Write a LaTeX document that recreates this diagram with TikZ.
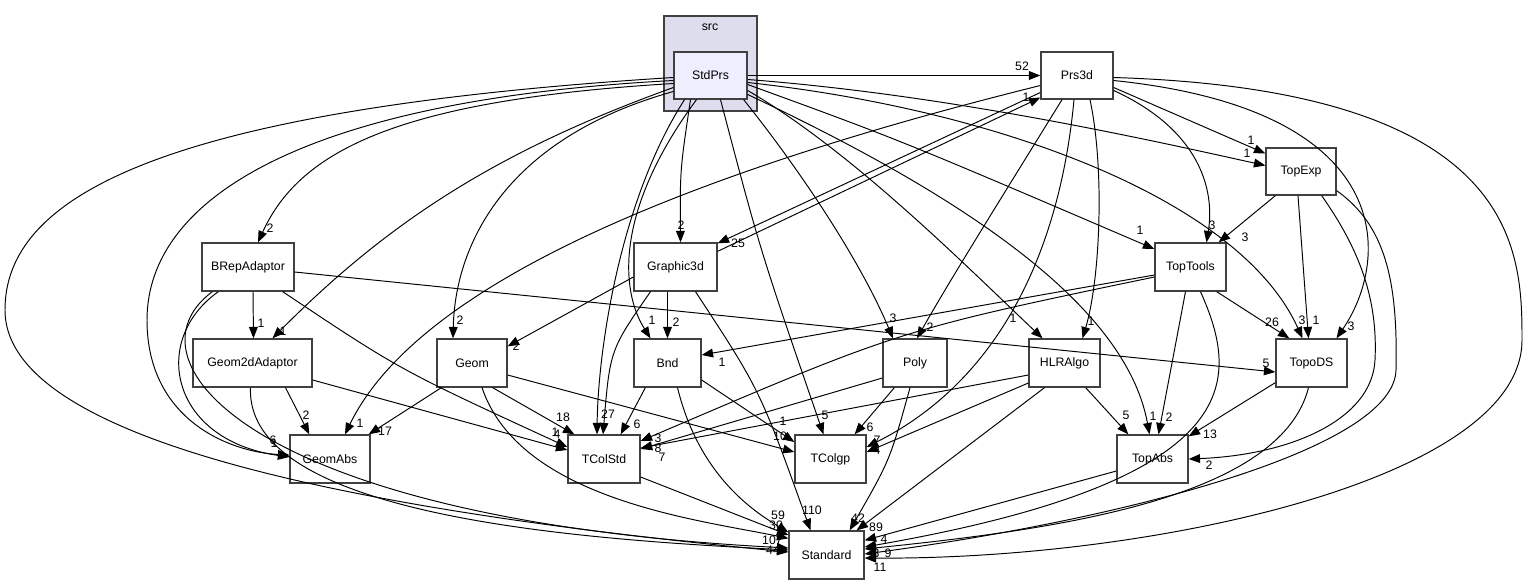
\documentclass[tikz,border=0pt]{standalone}
\usepackage{fontspec}
\setmainfont{Liberation Sans}
\usetikzlibrary{arrows.meta, calc}
\definecolor{frame}{HTML}{404040}
\definecolor{clusterbg}{HTML}{DDDDEE}
\definecolor{curdir}{HTML}{EEEEFF}

\begin{document}
\begin{tikzpicture}[x=0.02cm, y=-0.02cm, font=\fontsize{7}{8}\selectfont,
  dir/.style={draw=frame, line width=0.75pt, fill=white, minimum height=0.96cm, inner sep=0pt},
  arr/.style={-{Triangle[length=6.5pt,width=5pt]}, line width=0.55pt, black},
  lab/.style={inner sep=0pt}
]
  \useasboundingbox (0,0) rectangle (1525,585);

  % cluster
  \node[draw=frame, line width=0.75pt, fill=clusterbg, minimum width=1.86cm, minimum height=1.9cm, inner sep=0pt] (src) at (710.5,63.5) {};
  \node (srclab) at (710,27) {src};

  % directories
  \node[dir, fill=curdir, minimum width=1.46cm, minimum height=0.94cm] (StdPrs) at (710.5,75.5) {StdPrs};
  \node[dir, minimum width=1.44cm, minimum height=0.94cm] (Prs3d) at (1077,75.5) {Prs3d};
  \node[dir, minimum width=1.40cm, minimum height=0.94cm] (TopExp) at (1301,171.5) {TopExp};
  \node[dir, minimum width=1.84cm] (BRepAdaptor) at (248,267) {BRepAdaptor};
  \node[dir, minimum width=1.66cm] (Graphic3d) at (675.5,267) {Graphic3d};
  \node[dir, minimum width=1.42cm] (TopTools) at (1190.5,267) {TopTools};
  \node[dir, minimum width=2.38cm] (Geom2dAdaptor) at (252.5,363) {Geom2dAdaptor};
  \node[dir, minimum width=1.40cm] (Geom) at (472,363) {Geom};
  \node[dir, minimum width=1.34cm] (Bnd) at (667.5,363) {Bnd};
  \node[dir, minimum width=1.28cm] (Poly) at (915,363) {Poly};
  \node[dir, minimum width=1.42cm] (HLRAlgo) at (1064.5,363) {HLRAlgo};
  \node[dir, minimum width=1.42cm] (TopoDS) at (1311.5,363) {TopoDS};
  \node[dir, minimum width=1.60cm] (GeomAbs) at (330,459) {GeomAbs};
  \node[dir, minimum width=1.44cm] (TColStd) at (604,459) {TColStd};
  \node[dir, minimum width=1.42cm] (TColgp) at (830.5,459) {TColgp};
  \node[dir, minimum width=1.42cm] (TopAbs) at (1152.5,459) {TopAbs};
  \node[dir, minimum width=1.50cm] (Standard) at (826.5,555) {Standard};

  % StdPrs
  \draw[arr] (StdPrs.east) -- (Prs3d.west);
  \draw[arr] ($(StdPrs.east)+(0,4)$) .. controls (950,95) and (1150,140) .. ($(TopExp.west)+(0,-6)$);
  \draw[arr] ($(StdPrs.east)+(0,9)$) .. controls (900,140) .. ($(TopTools.west)+(0,-18)$);
  \draw[arr] ($(StdPrs.east)+(0,7)$) .. controls (1000,110) and (1240,200) .. ($(TopoDS.north)+(-9,0)$);
  \draw[arr] ($(StdPrs.east)+(0,15)$) .. controls (850,150) and (960,260) .. ($(HLRAlgo.north)+(-22,0)$);
  \draw[arr] ($(StdPrs.east)+(0,19)$) .. controls (950,190) and (1125,300) .. ($(TopAbs.north)+(-3,0)$);
  \draw[arr] ($(StdPrs.south east)+(-4,0)$) .. controls (800,170) and (860,260) .. ($(Poly.north)+(-22,0)$);
  \draw[arr] ($(StdPrs.south)+(10,0)$) .. controls (760,250) .. ($(TColgp.north)+(-7,0)$);
  \draw[arr] ($(StdPrs.south)+(-20,0)$) .. controls (680,170) .. ($(Graphic3d.north)+(5,0)$);
  \draw[arr] ($(StdPrs.south)+(-14,0)$) .. controls (615,210) and (620,290) .. ($(Bnd.north)+(-17,0)$);
  \draw[arr] ($(StdPrs.south)+(-26,0)$) .. controls (620,200) and (598,350) .. ($(TColStd.north)+(-7,0)$);
  \draw[arr] ($(StdPrs.west)+(0,16)$) .. controls (500,140) and (455,250) .. ($(Geom.north)+(-19,0)$);
  \draw[arr] ($(StdPrs.west)+(0,12)$) .. controls (500,150) and (390,220) .. ($(Geom2dAdaptor.north)+(20,0)$);
  \draw[arr] ($(StdPrs.west)+(0,8)$) .. controls (400,100) and (300,150) .. ($(BRepAdaptor.north)+(10,0)$);
  \draw[arr] ($(StdPrs.west)+(0,5)$) .. controls (300,100) and (147,200) .. (147,320) .. controls (147,420) and (230,452) .. ($(GeomAbs.west)+(0,-4)$);
  \draw[arr] ($(StdPrs.west)+(0,2)$) .. controls (150,110) and (5,200) .. (5,310) .. controls (5,440) and (350,510) .. ($(Standard.west)+(0,-3)$);

  % Prs3d
  \draw[arr] ($(Prs3d.east)+(0,12)$) -- ($(TopExp.west)+(0,-18)$);
  \draw[arr] ($(Prs3d.west)+(0,17)$) -- ($(Graphic3d.north east)+(0,1)$);
  \draw[arr] ($(Prs3d.west)+(0,10)$) .. controls (700,170) and (420,280) .. ($(GeomAbs.north)+(15,0)$);
  \draw[arr] ($(Prs3d.east)+(0,15)$) .. controls (1200,130) and (1215,190) .. ($(TopTools.north)+(16,0)$);
  \draw[arr] ($(Prs3d.east)+(0,5)$) .. controls (1400,110) and (1390,260) .. ($(TopoDS.north)+(25,0)$);
  \draw[arr] ($(Prs3d.south)+(-15,0)$) .. controls (1000,200) and (950,280) .. ($(Poly.north)+(2,0)$);
  \draw[arr] ($(Prs3d.south)+(13,0)$) .. controls (1105,170) and (1100,280) .. ($(HLRAlgo.north)+(18,0)$);
  \draw[arr] ($(Prs3d.south)+(-3,0)$) .. controls (1060,250) and (1000,380) .. ($(TColgp.east)+(0,-12)$);
  \draw[arr] ($(Prs3d.east)+(0,2)$) .. controls (1520,90) and (1522,250) .. (1522,340) .. controls (1522,480) and (1150,560) .. ($(Standard.east)+(0,3)$);

  % Graphic3d
  \draw[arr] ($(Graphic3d.north east)+(0,9)$) -- ($(Prs3d.west)+(0,22)$);
  \draw[arr] ($(Graphic3d.west)+(0,10)$) -- ($(Geom.north east)+(0,8)$);
  \draw[arr] ($(Graphic3d.south)+(-8,0)$) -- ($(Bnd.north)+(0,0)$);
  \draw[arr] ($(Graphic3d.south)+(-25,0)$) .. controls (610,350) .. ($(TColStd.north)+(-1,0)$);
  \draw[arr] ($(Graphic3d.south)+(20,0)$) .. controls (760,390) .. ($(Standard.north)+(-16,0)$);

  % TopExp
  \draw[arr] ($(TopExp.south west)+(10,0)$) -- ($(TopTools.north east)+(-8,0)$);
  \draw[arr] ($(TopExp.south)+(-3,0)$) -- ($(TopoDS.north)+(-3,0)$);
  \draw[arr] ($(TopExp.south east)+(-15,0)$) .. controls (1360,250) and (1378,300) .. (1375,360) .. controls (1372,420) and (1290,455) .. (TopAbs.east);
  \draw[arr] ($(TopExp.south east)+(0,-5)$) .. controls (1385,225) and (1398,280) .. (1396,370) .. controls (1394,450) and (1120,520) .. ($(Standard.east)+(0,-1)$);

  % TopTools
  \draw[arr] ($(TopTools.west)+(0,8)$) -- ($(Bnd.east)+(0,-8)$);
  \draw[arr] ($(TopTools.west)+(0,10)$) .. controls (900,330) .. ($(TColStd.east)+(0,-18)$);
  \draw[arr] ($(TopTools.south east)+(-10,0)$) -- ($(TopoDS.north west)+(14,0)$);
  \draw[arr] ($(TopTools.south)+(-5,0)$) -- ($(TopAbs.north)+(6,0)$);
  \draw[arr] ($(TopTools.south)+(10,0)$) .. controls (1240,380) and (1250,480) .. ($(Standard.east)+(0,-8)$);

  % BRepAdaptor
  \draw[arr] ($(BRepAdaptor.south)+(5,0)$) -- ($(Geom2dAdaptor.north)+(1,0)$);
  \draw[arr] ($(BRepAdaptor.south west)+(17,0)$) .. controls (150,340) and (170,440) .. ($(GeomAbs.west)+(0,-2)$);
  \draw[arr] ($(BRepAdaptor.south west)+(11,0)$) .. controls (120,360) and (250,520) .. ($(Standard.west)+(0,-7)$);
  \draw[arr] ($(BRepAdaptor.south east)+(-12,0)$) .. controls (400,370) .. ($(TColStd.west)+(0,-12)$);
  \draw[arr] ($(BRepAdaptor.east)+(0,5)$) -- ($(TopoDS.west)+(0,9)$);

  % Geom2dAdaptor
  \draw[arr] ($(Geom2dAdaptor.south)+(33,0)$) -- ($(GeomAbs.north west)+(20,0)$);
  \draw[arr] ($(Geom2dAdaptor.east)+(0,17)$) -- ($(TColStd.west)+(0,-9)$);
  \draw[arr] ($(Geom2dAdaptor.south)+(-2,0)$) .. controls (245,520) and (600,540) .. ($(Standard.west)+(0,-5)$);

  % Geom
  \draw[arr] ($(Geom.south west)+(5,0)$) -- ($(GeomAbs.north east)+(-2,0)$);
  \draw[arr] ($(Geom.south east)+(-15,0)$) -- ($(TColStd.north west)+(7,0)$);
  \draw[arr] ($(Geom.east)+(0,12)$) -- ($(TColgp.west)+(0,-7)$);
  \draw[arr] ($(Geom.south)+(10,0)$) .. controls (520,500) and (700,520) .. ($(Standard.north west)+(0,8)$);

  % Bnd
  \draw[arr] ($(Bnd.south west)+(12,0)$) -- ($(TColStd.north east)+(-20,0)$);
  \draw[arr] ($(Bnd.east)+(0,17)$) -- ($(TColgp.west)+(0,-17)$);
  \draw[arr] ($(Bnd.south)+(10,0)$) .. controls (700,480) and (760,515) .. ($(Standard.north west)+(0,2)$);

  % Poly
  \draw[arr] ($(Poly.west)+(0,15)$) -- ($(TColStd.east)+(0,-10)$);
  \draw[arr] ($(Poly.south west)+(12,0)$) -- ($(TColgp.north east)+(-12,0)$);
  \draw[arr] ($(Poly.south)+(-5,0)$) .. controls (890,460) .. ($(Standard.north east)+(-15,0)$);

  % HLRAlgo
  \draw[arr] ($(HLRAlgo.west)+(0,12)$) -- ($(TColStd.east)+(0,-11)$);
  \draw[arr] ($(HLRAlgo.west)+(0,20)$) -- ($(TColgp.east)+(0,-7)$);
  \draw[arr] ($(HLRAlgo.south east)+(-15,0)$) -- ($(TopAbs.north west)+(12,0)$);
  \draw[arr] ($(HLRAlgo.south)+(-20,0)$) -- ($(Standard.north east)+(-8,0)$);

  % TopoDS, TopAbs, TColStd
  \draw[arr] ($(TopoDS.south west)+(0,-5)$) -- ($(TopAbs.north east)+(0,2)$);
  \draw[arr] ($(TopoDS.south)+(-3,0)$) .. controls (1280,500) and (1050,530) .. ($(Standard.east)+(0,-6)$);
  \draw[arr] ($(TopAbs.west)+(0,12)$) -- ($(Standard.north east)+(0,10)$);
  \draw[arr] ($(TColStd.east)+(0,18)$) -- ($(Standard.west)+(0,-20)$);

  % edge counts
  \foreach \n/\x/\y/\t in {
    a/1022/66/52, b/1251/140/1, c/1247/153/1, d/270/228/2, e/261/323/1, f/283/331/1,
    g/460/320/2, h/516/346/2, i/681/225/2, j/652/320/1, k/676/322/2, l/722/362/1,
    m/738/243/25, n/1026/97/1, o/893/318/3, p/930/327/2, q/1013/318/1, r/1091/321/1,
    s/1140/230/1, t/1212/225/3, u/1245/237/3, v/1272/322/26, w/1302/320/3, x/1316/320/1,
    y/1351/326/3, z/1266/363/5, aa/306/415/2, ab/360/423/1, ac/385/431/17, ad/273/440/6,
    ae/274/443/1, af/563/417/18, ag/608/414/27, ah/637/424/6, ai/658/438/3, aj/658/448/8,
    ak/662/457/7, al/555/432/1, am/557/434/4, an/783/421/1, ao/825/415/5, ap/780/436/10,
    aq/870/427/6, ar/877/440/7, as/877/450/4, at/1126/415/5, au/1153/416/1, av/1169/417/2,
    aw/1210/434/13, ax/1209/465/2, ay/778/515/59, az/776/525/30, ba/812/510/110,
    bb/858/518/42, bc/876/527/89, bd/884/539/4, be/876/553/3, bf/888/553/9, bg/880/567/11,
    bh/769/540/10, bi/779/540/7, bj/773/550/44}
    \node[lab] (l\n) at (\x,\y) {\t};
\end{tikzpicture}
\end{document}
